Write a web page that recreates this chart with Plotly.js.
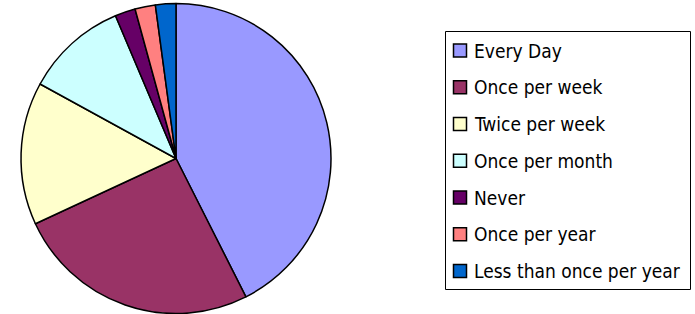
<!DOCTYPE html>
<html><head><meta charset="utf-8">
<script src="https://cdn.plot.ly/plotly-3.0.1.min.js"></script>
<style>html,body{margin:0;padding:0;background:#fff;overflow:hidden;} #chart{width:695px;height:314px;}</style>
</head><body><div id="chart"></div>
<script>
const labels = ['Every Day','Once per week','Twice per week','Once per month','Never','Once per year','Less than once per year'];
const values = [20, 12, 7, 5, 1, 1, 1];
const colors = ['#9999FF','#993366','#FFFFCC','#CCFFFF','#660066','#FF8080','#0066CC'];

const W = 695, H = 314;
const px = x => x / W;
const py = y => 1 - y / H;

const trace = {
  type: 'pie',
  labels: labels,
  values: values,
  sort: false,
  direction: 'clockwise',
  rotation: 0,
  textinfo: 'none',
  hoverinfo: 'label+value+percent',
  marker: { colors: colors, line: { color: '#000000', width: 1.5 } },
  domain: { x: [px(21), px(331)], y: [py(313.5), py(3.5)] },
  showlegend: false
};

// Legend drawn from labels/colors arrays
const shapes = [{
  type: 'rect', xref: 'paper', yref: 'paper',
  x0: px(445.5), x1: px(690.5), y0: py(289.5), y1: py(31.5),
  line: { color: '#000000', width: 1 }, fillcolor: 'rgba(0,0,0,0)'
}];
const annotations = [];
const startY = 50.5, stepY = 36.75;
labels.forEach((lab, i) => {
  const c = startY + i * stepY;
  shapes.push({
    type: 'rect', xref: 'paper', yref: 'paper',
    x0: px(453.5), x1: px(466.5), y0: py(c + 6.5), y1: py(c - 6.5),
    fillcolor: colors[i], line: { color: '#000000', width: 1.5 }
  });
  annotations.push({
    xref: 'paper', yref: 'paper', x: px(472), y: py(c),
    xanchor: 'left', yanchor: 'middle', showarrow: false,
    text: lab, font: { family: 'DejaVu Sans Condensed, DejaVu Sans', size: 19, color: '#000000' }
  });
});

const layout = {
  width: W, height: H,
  margin: { l: 0, r: 0, t: 0, b: 0, pad: 0 },
  paper_bgcolor: '#FFFFFF', plot_bgcolor: '#FFFFFF',
  shapes: shapes, annotations: annotations
};
Plotly.newPlot('chart', [trace], layout, { displayModeBar: false, staticPlot: true });
</script></body></html>
